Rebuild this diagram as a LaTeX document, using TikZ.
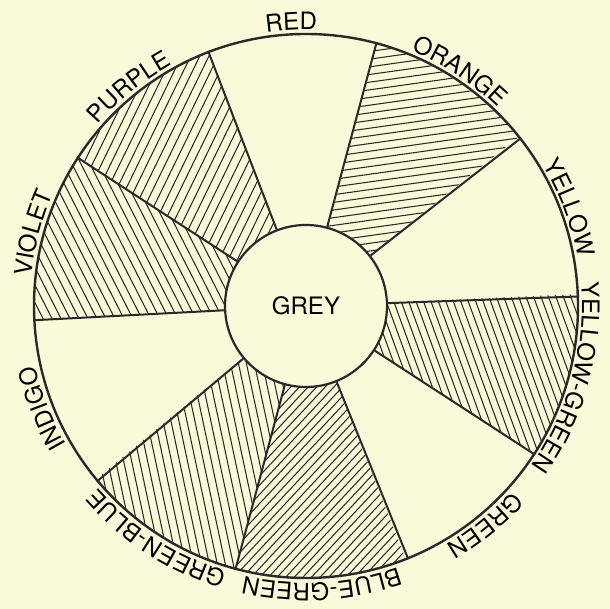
\documentclass[tikz,border=0pt]{standalone}
\usepackage{fontspec}
\newfontfamily\wheelfam{TeX Gyre Heros}
\newcommand\wheelfont{\wheelfam\fontsize{24}{28}\selectfont}
\usetikzlibrary{decorations.text,calc}
\definecolor{paper}{RGB}{250,249,218}
\definecolor{ink}{RGB}{45,40,40}
\begin{document}
\begin{tikzpicture}[x=1pt,y=1pt,
  hatch/.style={draw=ink, line width=1.05pt},
  spoke/.style={draw=ink, line width=2pt},
  ring/.style={circle, draw=ink, line width=2.4pt, inner sep=0pt}]
\fill[paper] (0,0) rectangle (610,609);
\useasboundingbox (0,0) rectangle (610,609);
\coordinate (O) at (306,303);
% hatched sectors: start angle / end angle / hatch angle / spacing
\foreach \aa/\ab/\ang/\sp in {38.5/75/8/7.6, -33/2.5/110/7, -105/-68.5/47/6.3, -140.5/-105/102/7.8, 147/183/117/8, 111/147/64/8.2}{
  \begin{scope}
    \clip (O) -- ($(O)+(\aa:272)$) arc[start angle=\aa, end angle=\ab, radius=272] -- cycle;
    \begin{scope}[shift={(O)}, rotate=\ang]
      \foreach \k in {-45,...,45} \draw[hatch] (-300,\k*\sp) -- (300,\k*\sp);
    \end{scope}
  \end{scope}
}
\node[ring, minimum size=544pt] (wheel) at (O) {};
\node[ring, fill=paper, line width=2.2pt, minimum size=162pt] (grey) at (O) {\wheelfont GREY};
\foreach \a in {111,75,38.5,2.5,-33,-68.5,-105,-140.5,-177,147}
  \draw[spoke] (grey.\a) -- (wheel.\a);
% labels
\path[decorate, decoration={text along path, text align=center, text={|\wheelfont|RED}}] ($(O)+(123:276)$) arc[start angle=123, end angle=63, radius=276];
\path[decorate, decoration={text along path, text align=center, text={|\wheelfont|ORANGE}}] ($(O)+(86.75:276)$) arc[start angle=86.75, end angle=26.75, radius=276];
\path[decorate, decoration={text along path, text align=center, text={|\wheelfont|YELLOW}}] ($(O)+(50.5:276)$) arc[start angle=50.5, end angle=-9.5, radius=276];
\path[decorate, decoration={text along path, text align=center, text={|\wheelfont|YELLOW-GREEN}}] ($(O)+(19.75:276)$) arc[start angle=19.75, end angle=-50.25, radius=276];
\path[decorate, decoration={text along path, text align=center, text={|\wheelfont|GREEN}}] ($(O)+(-20.75:277)$) arc[start angle=-20.75, end angle=-80.75, radius=277];
\path[decorate, decoration={text along path, text align=center, text={|\wheelfont|BLUE-GREEN}}] ($(O)+(-51.75:277)$) arc[start angle=-51.75, end angle=-121.75, radius=277];
\path[decorate, decoration={text along path, text align=center, text={|\wheelfont|GREEN-BLUE}}] ($(O)+(-87.75:277)$) arc[start angle=-87.75, end angle=-157.75, radius=277];
\path[decorate, decoration={text along path, text align=center, text={|\wheelfont|INDIGO}}] ($(O)+(-128.75:277)$) arc[start angle=-128.75, end angle=-188.75, radius=277];
\path[decorate, decoration={text along path, text align=center, text={|\wheelfont|VIOLET}}] ($(O)+(195:276)$) arc[start angle=195, end angle=135, radius=276];
\path[decorate, decoration={text along path, text align=center, text={|\wheelfont|PURPLE}}] ($(O)+(159:276)$) arc[start angle=159, end angle=99, radius=276];
\end{tikzpicture}
\end{document}
